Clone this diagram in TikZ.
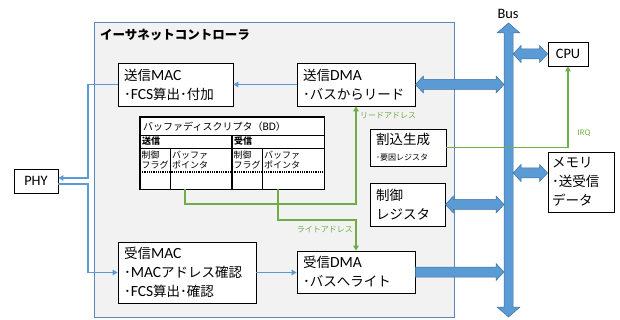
\documentclass[tikz,border=0pt]{standalone}
\usepackage{fontspec}
\setmainfont{Noto Sans CJK JP}
\newfontfamily\lat{Carlito}[Scale=1.15]
\usetikzlibrary{arrows.meta,calc}
\definecolor{bblue}{HTML}{5B9BD5}
\definecolor{bdark}{HTML}{41719C}
\definecolor{gr}{HTML}{70AD47}
\definecolor{cont}{HTML}{F2F2F2}
\definecolor{contb}{HTML}{5A86BE}
\newcommand\hdbl[2]{\filldraw[blk] let \p1=#1, \p2=#2 in (\x1,\y1) -- (\x1+8pt,\y1+8.5pt) -- (\x1+8pt,\y1+5pt) -- (\x2-8pt,\y1+5pt) -- (\x2-8pt,\y1+8.5pt) -- (\x2,\y1) -- (\x2-8pt,\y1-8.5pt) -- (\x2-8pt,\y1-5pt) -- (\x1+8pt,\y1-5pt) -- (\x1+8pt,\y1-8.5pt) -- cycle;}
\newcommand\hsgl[2]{\filldraw[blk] let \p1=#1, \p2=#2 in (\x1,\y1+5pt) -- (\x2-8pt,\y1+5pt) -- (\x2-8pt,\y1+8.5pt) -- (\x2,\y1) -- (\x2-8pt,\y1-8.5pt) -- (\x2-8pt,\y1-5pt) -- (\x1,\y1-5pt) -- cycle;}
\begin{document}
\begin{tikzpicture}[x=1pt,y=-1pt,
  box/.style={draw=black, line width=0.8pt, fill=white, inner xsep=6pt, inner ysep=0pt, align=left, font=\fontsize{13.5}{19}\selectfont},
  blk/.style={fill=bblue, draw=bdark, line width=0.5pt},
  bl/.style={draw=bblue, line width=1.3pt, -{Triangle[length=5pt,width=5.5pt]}},
  grn/.style={draw=gr, line width=1.3pt, -{Triangle[length=5pt,width=5.5pt]}},
  glab/.style={text=gr, inner sep=0pt, font=\fontsize{8}{9}\selectfont},
  cell/.style={inner sep=0pt, anchor=north west, align=left, font=\fontsize{9}{10}\selectfont},
  tline/.style={line width=0.8pt}]
\useasboundingbox (0,0) rectangle (620,320);
% container
\node[draw=contb, line width=0.9pt, fill=cont, anchor=north west, minimum width=360pt, minimum height=295pt, inner sep=0pt] (ctl) at (94,22) {};
\node[anchor=west, inner sep=0pt, font=\bfseries\fontsize{12.5}{14}\selectfont] (ttl) at (100,35) {イーサネットコントローラ};
% bus
\coordinate (busT) at (508.5,23);
\coordinate (busB) at (508.5,317);
\coordinate (busL) at (504,0);
\coordinate (busR) at (513,0);
\filldraw[blk] let \p1=(busT), \p2=(busB) in (\x1,\y1) -- (\x1+11.5pt,\y1-10pt) -- (\x1+4.5pt,\y1-10pt) -- (\x1+4.5pt,\y2+10pt) -- (\x1+11.5pt,\y2+10pt) -- (\x1,\y2) -- (\x1-11.5pt,\y2+10pt) -- (\x1-4.5pt,\y2+10pt) -- (\x1-4.5pt,\y1-10pt) -- (\x1-11.5pt,\y1-10pt) -- cycle;
\node[inner sep=0pt, font=\lat\fontsize{12.5}{14}\selectfont] (buslab) at (508,14) {Bus};
% boxes
\node[box, minimum width=115pt, minimum height=43pt, text width=103pt] (txmac) at (175.5,84.5) {送信{\lat MAC}\\･{\lat FCS}算出･付加};
\node[box, minimum width=118pt, minimum height=43pt, text width=106pt] (txdma) at (356,84.5) {送信{\lat DMA}\\･バスからリード};
\node[box, minimum width=138pt, minimum height=61pt, text width=126pt] (rxmac) at (187,272.5) {受信{\lat MAC}\\･{\lat MAC}アドレス確認\\･{\lat FCS}算出･確認};
\node[box, minimum width=118pt, minimum height=42pt, text width=106pt] (rxdma) at (356,272) {受信{\lat DMA}\\･バスへライト};
\node[box, minimum width=76pt, minimum height=37pt, text width=64pt] (intr) at (408,147.5) {割込生成\\[-3pt]{\fontsize{8}{9}\selectfont ･要因レジスタ}};
\node[box, minimum width=75pt, minimum height=43pt, text width=63pt] (ctrl) at (407.5,204.5) {制御\\レジスタ};
\node[box, minimum width=40pt, minimum height=24pt, align=center, inner xsep=0pt, font=\lat\fontsize{12.5}{14}\selectfont] (cpu) at (568,54) {CPU};
\node[box, minimum width=66pt, minimum height=60pt, text width=58pt, inner xsep=4pt] (mem) at (581,182) {メモリ\\･送受信\\データ};
\node[box, minimum width=44pt, minimum height=24pt, align=center, inner xsep=0pt, font=\lat\fontsize{12.5}{14}\selectfont] (phy) at (36,181) {PHY};
% BD table
\node[fill=white, anchor=north west, minimum width=184pt, minimum height=72pt, inner sep=0pt] (bd) at (140,117) {};
\draw[tline] (140,135) -- (324,135);
\draw[tline] (140,148) -- (324,148);
\draw[line width=1.2pt, dash pattern=on 1pt off 0.8pt] (140,172) -- (324,172);
\draw[line width=0.6pt] (170,148) -- (170,189);
\draw[line width=0.6pt] (262,148) -- (262,189);
\draw[line width=1.6pt] (232,135) -- (232,189);
\draw[line width=1.2pt] (bd.north west) rectangle (bd.south east);
\node[anchor=west, inner sep=0pt, font=\fontsize{10}{11}\selectfont] (bdt) at (143,126.5) {バッファディスクリプタ（{\lat BD}）};
\node[anchor=west, inner sep=0pt, font=\bfseries\fontsize{9}{10}\selectfont] (hs) at (142,141.5) {送信};
\node[anchor=west, inner sep=0pt, font=\bfseries\fontsize{9}{10}\selectfont] (hr) at (234,141.5) {受信};
\node[cell] (c1) at (141.5,150.5) {制御\\フラグ};
\node[cell] (c2) at (172,150.5) {バッファ\\ポインタ};
\node[cell] (c3) at (233.5,150.5) {制御\\フラグ};
\node[cell] (c4) at (264,150.5) {バッファ\\ポインタ};
% bus arrows
\hdbl{(txdma.east)}{(busL)}
\hdbl{(ctrl.east)}{(busL)}
\hsgl{(rxdma.east)}{(busL)}
\hdbl{(busR |- cpu.west)}{(cpu.west)}
\hdbl{($(busR |- mem.west)+(0,-9)$)}{(mem.west)}
% blue lines
\coordinate (lx) at (88,0);
\draw[bl] (txdma.west) -- (txmac.east);
\draw[bl] (txmac.west) -- (lx |- txmac.west) -- ($(lx |- phy.east)+(0,-3)$) -- ($(phy.east)+(0,-3)$);
\draw[bl] ($(phy.east)+(0,3)$) -- ($(lx |- phy.east)+(0,3)$) |- (rxmac.west);
\draw[bl] (rxmac.east) -- (rxdma.west |- rxmac.east);
% green lines
\coordinate (tp) at (185,189);
\coordinate (rp) at (278,189);
\coordinate (g1) at (356,204);
\coordinate (g2) at (356,220);
\draw[grn] (tp) |- (g1) -- (txdma.south);
\draw[grn] (rp) |- (g2) -- (rxdma.north);
\draw[grn] (intr.east) -| (cpu.south);
\node[glab, anchor=west] (rl) at (360,116) {リードアドレス};
\node[glab, anchor=east] (wl) at (353,230) {ライトアドレス};
\node[glab, font=\lat\fontsize{7.5}{9}\selectfont] (irq) at (584,133) {IRQ};
\end{tikzpicture}
\end{document}
